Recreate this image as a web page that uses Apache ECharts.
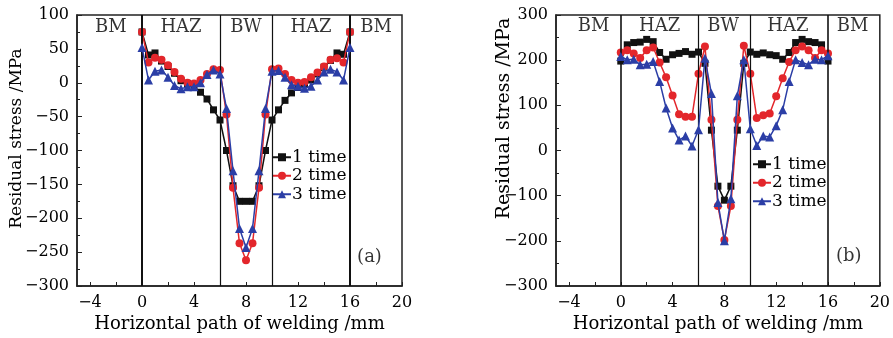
<!DOCTYPE html>
<html>
<head>
<meta charset="utf-8">
<script src="https://cdn.jsdelivr.net/npm/echarts@6/dist/echarts.min.js"></script>
<style>
  html, body { margin: 0; background: #fff; }
  #chart { width: 893px; height: 338px; }
</style>
</head>
<body>
<div id="chart"></div>
<script>
// welding path positions (mm)
const positions = [0, 0.5, 1, 1.5, 2, 2.5, 3, 3.5, 4, 4.5, 5, 5.5, 6, 6.5, 7, 7.5, 8,
  8.5, 9, 9.5, 10, 10.5, 11, 11.5, 12, 12.5, 13, 13.5, 14, 14.5, 15, 15.5, 16];

// (a)
const a1 = [75, 41, 44, 32, 24, 14, 3, -1, -7, -14, -24, -40, -55, -100, -152, -175, -175,
  -175, -152, -100, -55, -40, -26, -15, -7, -1, 4, 13, 23, 33, 44, 42, 75];
const a2 = [75, 30, 37, 34, 26, 16, 6, 0, -1, 4, 13, 20, 19, -47, -155, -237, -262,
  -237, -155, -47, 20, 21, 13, 4, 0, 1, 8, 15, 24, 34, 36, 30, 75];
const a3 = [52, 4, 17, 19, 8, -4, -9, -6, -6, 0, 12, 19, 13, -38, -130, -215, -243,
  -215, -130, -38, 17, 18, 8, -3, -5, -8, -5, 4, 16, 20, 16, 4, 52];

// (b)
const b1 = [198, 234, 239, 240, 246, 241, 217, 202, 212, 215, 219, 213, 218, 193, 45, -79, -110,
  -79, 45, 193, 218, 213, 216, 212, 210, 202, 217, 239, 246, 241, 239, 234, 198];
const b2 = [217, 222, 215, 205, 222, 228, 195, 162, 122, 80, 75, 75, 170, 230, 68, -123, -198,
  -123, 68, 232, 170, 72, 78, 82, 120, 160, 196, 222, 230, 222, 205, 222, 215];
const b3 = [208, 201, 202, 190, 191, 197, 153, 94, 50, 23, 32, 10, 46, 204, 126, -115, -200,
  -107, 121, 201, 48, 11, 32, 30, 55, 90, 153, 201, 195, 190, 202, 201, 210];

const seriesNames = ['1 time', '2 time', '3 time'];
const zoneBounds = [0, 6, 10, 16];
const zoneNames = ['BM', 'HAZ', 'BW', 'HAZ', 'BM'];
const zoneCentersA = [-2.4, 3, 8, 13, 18];
const zoneCentersB = [-2.1, 3, 7.9, 12.9, 17.9];
const xLabels = [-4, 0, 4, 8, 12, 16, 20];
const xTicks = [-4, -2, 0, 2, 4, 6, 8, 10, 12, 14, 16, 18, 20];

const font = 'DejaVu Serif';
const ink = '#000';
const colors = ['#111111', '#e3262b', '#2b3ea6'];
const symbols = ['rect', 'circle', 'triangle'];
const symbolSizes = [7, 8, 9];

const zip = (ys) => positions.map((x, i) => [x, ys[i]]);
const minus = (v) => String(v).replace('-', '\u2212');

const xAxisOf = (gi) => ({
  type: 'value',
  gridIndex: gi,
  min: -5,
  max: 20,
  name: 'Horizontal path of welding /mm',
  nameLocation: 'middle',
  nameGap: 29,
  nameMoveOverlap: false,
  nameTextStyle: { fontFamily: font, fontSize: 18, color: ink },
  axisLine: { onZero: false, lineStyle: { color: '#222', width: 1.5 } },
  axisTick: { inside: true, length: 4, customValues: xTicks, lineStyle: { color: '#222' } },
  axisLabel: { customValues: xLabels, formatter: minus, fontFamily: font, fontSize: 16, color: ink, margin: 9 },
  splitLine: { show: false },
});

const yAxisOf = (gi, min, max, step, gap, size, pad) => ({
  type: 'value',
  gridIndex: gi,
  min: min,
  max: max,
  interval: step,
  name: 'Residual stress /MPa',
  nameLocation: 'middle',
  nameGap: gap,
  nameMoveOverlap: false,
  nameTextStyle: { fontFamily: font, fontSize: size, color: ink, padding: [0, 0, 0, pad] },
  axisLine: { onZero: false, lineStyle: { color: '#222', width: 1.5 } },
  axisTick: { inside: true, length: 5, lineStyle: { color: '#222' } },
  minorTick: { show: true, splitNumber: 2, length: 3, lineStyle: { color: '#222' } },
  axisLabel: { formatter: minus, fontFamily: font, fontSize: 16, color: ink, margin: 8 },
  splitLine: { show: false },
});

const zoneLines = (widths) => ({
  silent: true,
  symbol: 'none',
  label: { show: false },
  animation: false,
  data: zoneBounds.map((b, i) => ({ xAxis: b, lineStyle: { color: '#111', type: 'solid', width: widths[i] } })),
});

const dataSeries = (gi, sets, widths) => sets.map((ys, k) => ({
  name: seriesNames[k],
  type: 'line',
  xAxisIndex: gi,
  yAxisIndex: gi,
  data: zip(ys),
  symbol: symbols[k],
  symbolSize: symbolSizes[k],
  lineStyle: { color: colors[k], width: 1.5 },
  itemStyle: { color: colors[k] },
  z: 3 + k,
  markLine: k === 0 ? zoneLines(widths) : undefined,
}));

const textSeries = (gi, centers, yVal, tag, tagX, tagY) => ({
  type: 'scatter',
  xAxisIndex: gi,
  yAxisIndex: gi,
  symbolSize: 0,
  silent: true,
  label: {
    show: true, position: 'inside', formatter: (p) => p.name,
    fontFamily: font, fontSize: 18, color: ink,
  },
  data: zoneNames.map((n, i) => ({ name: n, value: [centers[i], yVal] }))
    .concat([{ name: tag, value: [tagX, tagY] }]),
});

const legendOf = (left, top) => ({
  orient: 'vertical',
  left: left,
  top: top,
  data: seriesNames,
  itemWidth: 18,
  itemHeight: 10,
  itemGap: 0,
  padding: 0,
  textStyle: { fontFamily: font, fontSize: 17, color: ink, lineHeight: 18.5, padding: [0, 0, 0, -4] },
  selectedMode: false,
});

const chart = echarts.init(document.getElementById('chart'));
chart.setOption({
  animation: false,
  backgroundColor: '#fff',
  grid: [
    { left: 77, top: 15, width: 325, height: 271, show: true, borderColor: '#222', borderWidth: 1.5 },
    { left: 556, top: 15, width: 325, height: 271, show: true, borderColor: '#222', borderWidth: 1.5 },
  ],
  legend: [legendOf(272, 148), legendOf(752, 155)],
  xAxis: [xAxisOf(0), xAxisOf(1)],
  yAxis: [
    yAxisOf(0, -300, 100, 50, 52, 17, 24),
    yAxisOf(1, -300, 300, 100, 42, 19, 64),
  ],
  series: [
    ...dataSeries(0, [a1, a2, a3], [2, 1.2, 1.2, 2]),
    ...dataSeries(1, [b1, b2, b3], [1.6, 1.2, 1.2, 1.6]),
    textSeries(0, zoneCentersA, 82, '(a)', 17.5, -258),
    textSeries(1, zoneCentersB, 274, '(b)', 17.6, -234),
  ],
});
</script>
</body>
</html>
